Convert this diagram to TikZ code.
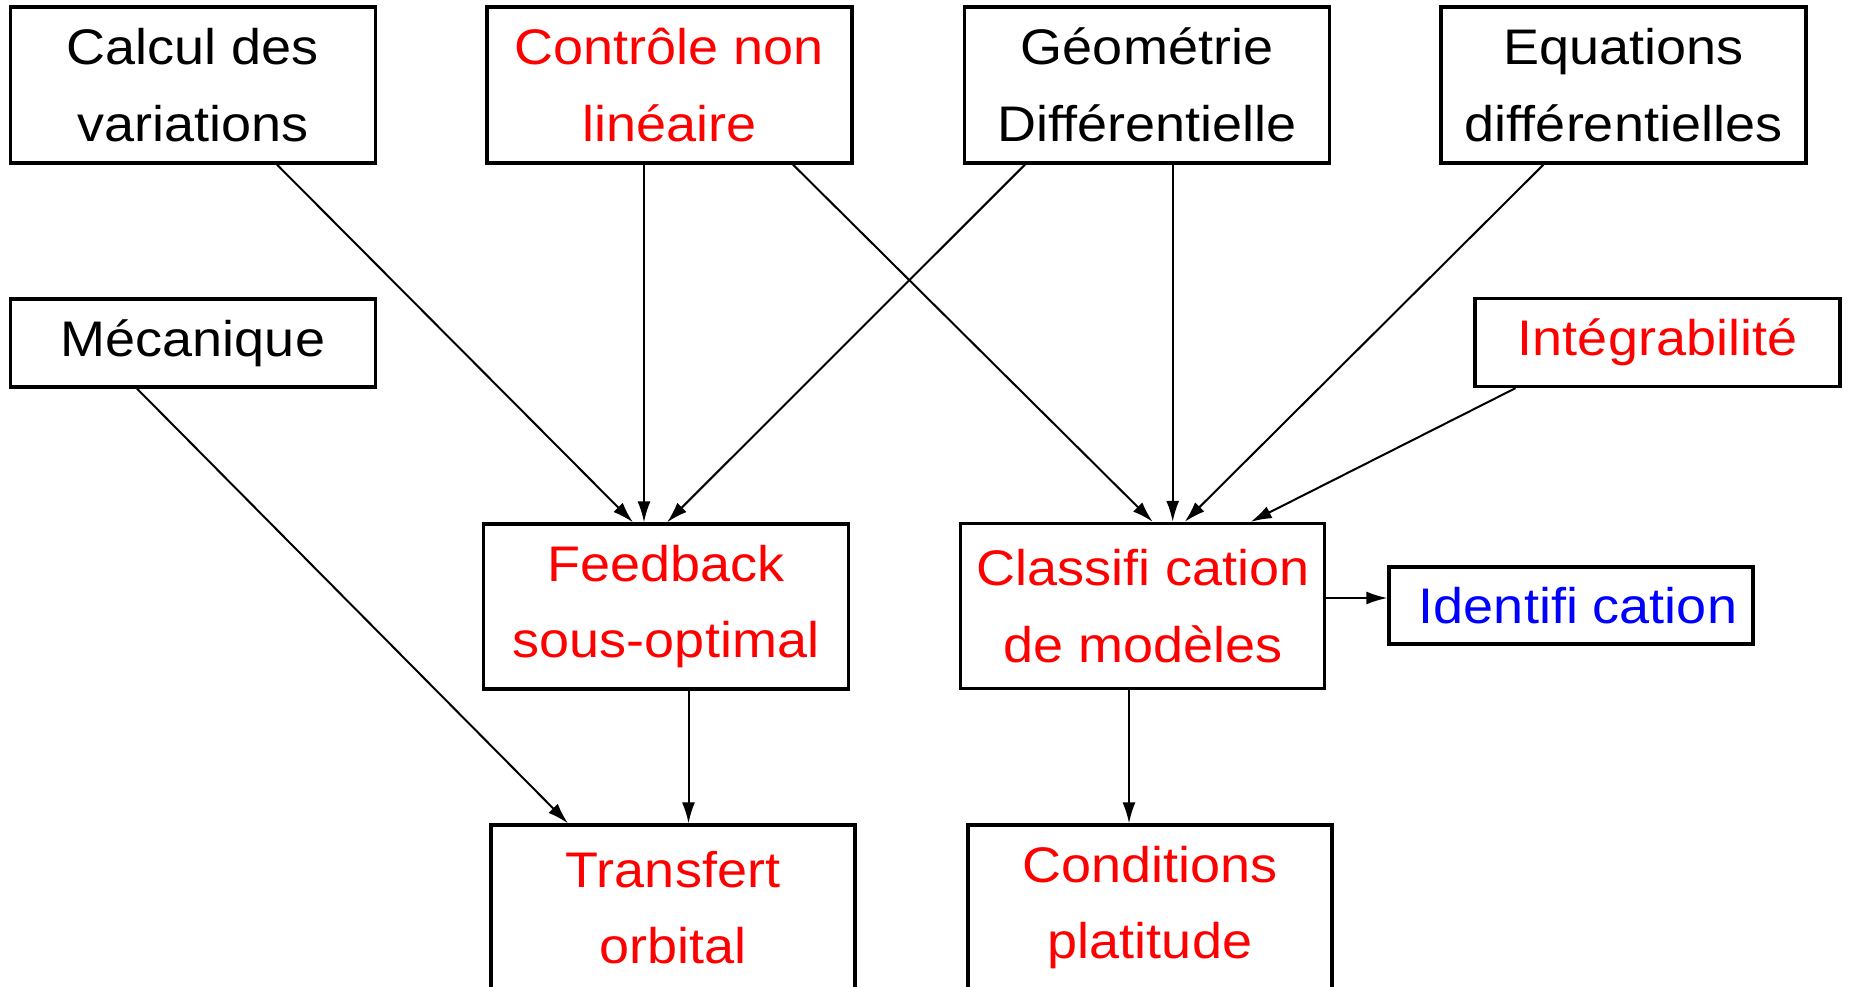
\documentclass[tikz,border=0pt]{standalone}
\usepackage{fontspec}
\setmainfont[FakeStretch=1.08]{Liberation Sans}
\usetikzlibrary{arrows.meta}
\tikzset{
  box/.style={draw, line width=3.3pt, inner sep=0pt, align=center,
    font=\fontsize{50}{76.5}\selectfont, minimum width=#1},
  box/.default=365pt,
  tall/.style={minimum height=156pt},
  mid/.style={minimum height=165pt},
  low/.style={minimum height=88pt},
  conn/.style={line width=2pt, -{Latex[length=21pt,width=13pt]}},
}
\begin{document}
\begin{tikzpicture}[x=1pt,y=-1pt]
\useasboundingbox (0,0) rectangle (1853,987);
\clip (0,0) rectangle (1853,987);
% top row
\node[box, tall] (calc) at (193,85) {Calcul des\\variations};
\node[box, tall, text=red] (ctrl) at (669.5,85) {Contrôle non\\linéaire};
\node[box, tall] (geo) at (1147,85) {Géométrie\\Différentielle};
\node[box, tall] (eq) at (1623.5,85) {Equations\\différentielles};
% second row
\node[box, low] (meca) at (193,343) {Mécanique};
\node[box, low, text=red] (integ) at (1657.5,342.5) {Intégrabilité};
% third row
\node[box, mid, text=red] (feed) at (666,606.5) {Feedback\\sous-optimal};
\node[box=364pt, mid, text=red] (class) at (1142.7,606) {Classifi cation\\de modèles};
\node[box=364pt, minimum height=77pt, text=blue] (ident) at (1571,605.5) {\hspace*{14pt}Identifi cation};
% bottom row
\node[box=364pt, mid, text=red] (trans) at (673,907.5) {Transfert\\orbital};
\node[box=364pt, mid, text=red] (cond) at (1150,907.5) {Conditions\\platitude};
% connectors
\coordinate (classout) at ([yshift=8pt]class.east);
\draw[conn] ([xshift=84pt]calc.south) -- ([xshift=-33pt]feed.north);
\draw[conn] ([xshift=-22pt]feed.north |- ctrl.south) -- ([xshift=-22pt]feed.north);
\draw[conn] ([xshift=-122pt]geo.south) -- ([xshift=1pt]feed.north);
\draw[conn] ([xshift=123.5pt]ctrl.south) -- ([xshift=10pt]class.north);
\draw[conn] ([xshift=30pt]class.north |- geo.south) -- ([xshift=30pt]class.north);
\draw[conn] ([xshift=-80pt]eq.south) -- ([xshift=42pt]class.north);
\draw[conn] ([xshift=-142pt]integ.south) -- ([xshift=108pt]class.north);
\draw[conn] ([xshift=-56pt]meca.south) -- ([xshift=-105pt]trans.north);
\draw[conn] ([xshift=15.5pt]trans.north |- feed.south) -- ([xshift=15.5pt]trans.north);
\draw[conn] ([xshift=-21pt]cond.north |- class.south) -- ([xshift=-21pt]cond.north);
\draw[conn] (classout) -- (ident.west |- classout);
\end{tikzpicture}
\end{document}
